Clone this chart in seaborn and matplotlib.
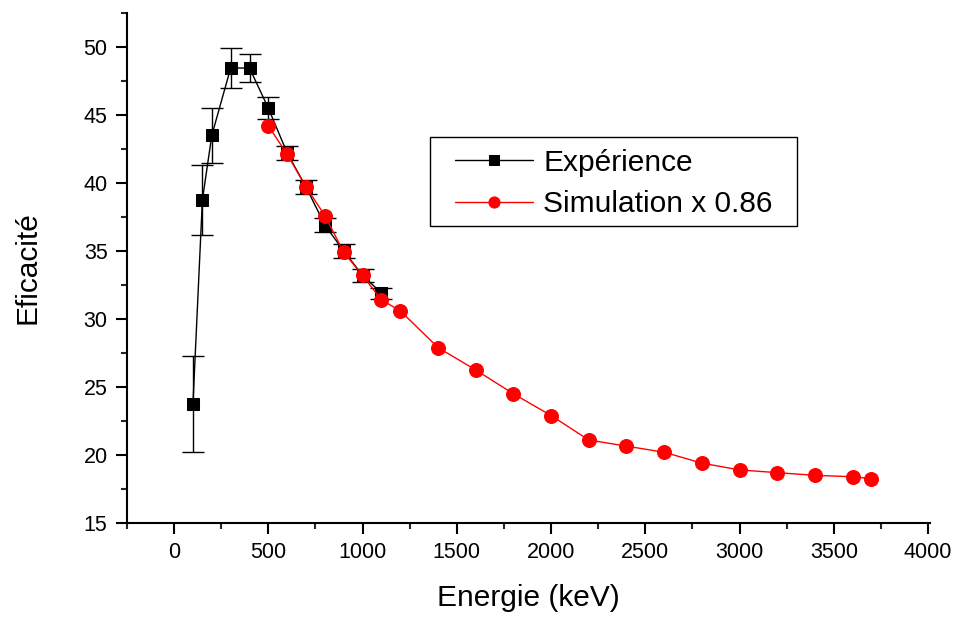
import numpy as np
import pandas as pd
import matplotlib
matplotlib.use("Agg")
import matplotlib.pyplot as plt
from matplotlib.patches import Rectangle
import seaborn as sns

# Measured efficiency with uncertainties
exp_energy = [100, 150, 200, 300, 400, 500, 600, 700, 800, 900, 1000, 1100]
exp_eff = [23.75, 38.75, 43.5, 48.45, 48.45, 45.5, 42.2, 39.7, 36.9, 35.0, 33.2, 31.9]
exp_err = [3.5, 2.6, 2.0, 1.5, 1.0, 0.8, 0.5, 0.5, 0.5, 0.5, 0.5, 0.4]

# Simulated efficiency, scaled by 0.86
sim_energy = [500, 600, 700, 800, 900, 1000, 1100, 1200, 1400, 1600, 1800, 2000,
              2200, 2400, 2600, 2800, 3000, 3200, 3400, 3600, 3700]
sim_eff = [44.2, 42.1, 39.7, 37.6, 34.9, 33.2, 31.4, 30.6, 27.9, 26.25, 24.5, 22.9,
           21.1, 20.65, 20.2, 19.4, 18.9, 18.7, 18.5, 18.4, 18.25]

sns.set_style("ticks")
plt.rcParams["font.family"] = ["Liberation Sans", "DejaVu Sans"]
plt.rcParams["text.color"] = "black"
plt.rcParams["axes.labelcolor"] = "black"

fig = plt.figure(figsize=(9.57, 6.17), dpi=100)
ax = fig.add_axes([0.1327, 0.1524, 0.8390, 0.8266])

df_exp = pd.DataFrame({"Energie": exp_energy, "Eff": exp_eff})
df_sim = pd.DataFrame({"Energie": sim_energy, "Eff": sim_eff})

ax.errorbar(exp_energy, exp_eff, yerr=exp_err, fmt="none", ecolor="black",
            elinewidth=1.0, capsize=8, capthick=1.0, zorder=2)
sns.lineplot(data=df_exp, x="Energie", y="Eff", ax=ax, color="black", lw=1.0,
             marker="s", markersize=9, markeredgecolor="black",
             label="Expérience", zorder=3)
sns.lineplot(data=df_sim, x="Energie", y="Eff", ax=ax, color="red", lw=1.0,
             marker="o", markersize=10, markeredgecolor="red",
             label="Simulation x 0.86", zorder=4)

ax.set_xlim(-250, 4010)
ax.set_ylim(15, 52.5)
ax.set_xticks(np.arange(0, 4001, 500))
ax.set_xticks(np.arange(-250, 4001, 250), minor=True)
ax.set_yticks(np.arange(15, 51, 5))
ax.set_yticks(np.arange(15, 52.6, 2.5), minor=True)

for s in ["top", "right"]:
    ax.spines[s].set_visible(False)
for s in ["left", "bottom"]:
    ax.spines[s].set_linewidth(1.5)
    ax.spines[s].set_color("black")

ax.tick_params(axis="both", which="major", direction="out", length=8, width=1.5,
               labelsize=15.5, colors="black", pad=6)
ax.tick_params(axis="both", which="minor", direction="out", length=4, width=1.5)

ax.set_xlabel("Energie (keV)", fontsize=21.5, labelpad=15)
ax.set_ylabel("Eficacité", fontsize=21.5, labelpad=30)

# Legend entries without their own frame; a plain box is drawn around them
leg = ax.legend(loc="upper left", bbox_to_anchor=(0.4085, 0.734), fontsize=21.5,
                frameon=False, handlelength=2.6, borderpad=0, labelspacing=0.45,
                handletextpad=0.35, borderaxespad=0, markerscale=0.8)
box = Rectangle((0.3773, 0.5824), 0.8344 - 0.3773, 0.7569 - 0.5824,
                transform=ax.transAxes, fill=True, facecolor="white",
                edgecolor="black", lw=1.0, zorder=5)
ax.add_patch(box)
leg.set_zorder(6)

fig.savefig("out.png", dpi=100, facecolor="white")
